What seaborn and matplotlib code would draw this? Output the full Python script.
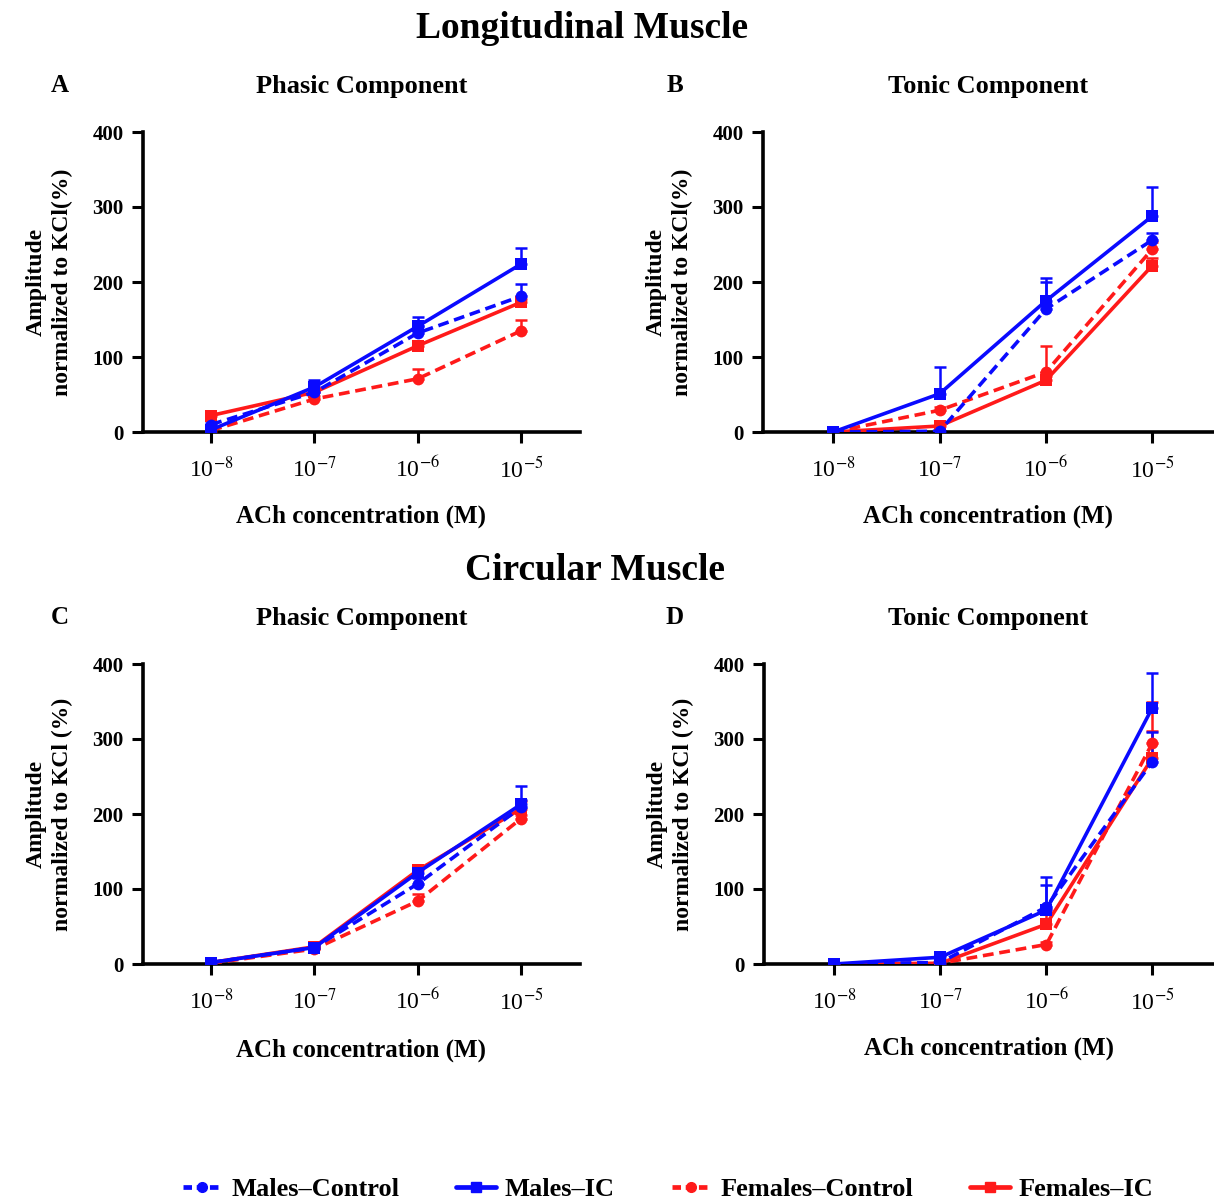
import numpy as np
import pandas as pd
import matplotlib
matplotlib.use("Agg")
import matplotlib.pyplot as plt
import seaborn as sns
from matplotlib.lines import Line2D

sns.set_style("ticks")
plt.rcParams['font.family'] = ['Liberation Serif', 'DejaVu Serif']
plt.rcParams['mathtext.fontset'] = 'stix'
for k in ['text.color', 'axes.labelcolor', 'xtick.color', 'ytick.color', 'axes.edgecolor']:
    plt.rcParams[k] = 'black'

# x categories (ACh concentration, M)
conc = ['10$^{-8}$', '10$^{-7}$', '10$^{-6}$', '10$^{-5}$']
groups = ['Males\u2013Control', 'Males\u2013IC', 'Females\u2013Control', 'Females\u2013IC']

# Panel A - longitudinal, phasic
a_mean = {'Males\u2013Control': [10, 53, 132, 181], 'Males\u2013IC': [3, 60, 141, 224],
          'Females\u2013Control': [2, 44, 71, 135], 'Females\u2013IC': [22, 53, 115, 173]}
a_err = {'Males\u2013Control': [2, 6, 10, 16], 'Males\u2013IC': [3, 10, 12, 21],
         'Females\u2013Control': [2, 4, 13, 14], 'Females\u2013IC': [3, 5, 5, 5]}
# Panel B - longitudinal, tonic
b_mean = {'Males\u2013Control': [0, 1, 164, 256], 'Males\u2013IC': [0, 51, 175, 288],
          'Females\u2013Control': [0, 29, 80, 244], 'Females\u2013IC': [0, 8, 69, 222]}
b_err = {'Males\u2013Control': [0, 1, 36, 10], 'Males\u2013IC': [0, 36, 31, 39],
         'Females\u2013Control': [0, 5, 35, 10], 'Females\u2013IC': [0, 3, 6, 10]}
# Panel C - circular, phasic
c_mean = {'Males\u2013Control': [2, 22, 107, 209], 'Males\u2013IC': [2, 22, 122, 213],
          'Females\u2013Control': [1, 20, 84, 194], 'Females\u2013IC': [2, 23, 125, 207]}
c_err = {'Males\u2013Control': [1, 2, 8, 10], 'Males\u2013IC': [1, 2, 8, 25],
         'Females\u2013Control': [1, 2, 9, 5], 'Females\u2013IC': [1, 2, 5, 11]}
# Panel D - circular, tonic
d_mean = {'Males\u2013Control': [0, 2, 76, 270], 'Males\u2013IC': [0, 9, 72, 342],
          'Females\u2013Control': [0, 1, 26, 295], 'Females\u2013IC': [0, 1, 53, 275]}
d_err = {'Males\u2013Control': [0, 2, 29, 40], 'Males\u2013IC': [0, 3, 44, 46],
         'Females\u2013Control': [0, 1, 3, 16], 'Females\u2013IC': [0, 1, 20, 74]}

colors = {'Males\u2013Control': '#0a0aff', 'Males\u2013IC': '#0a0aff',
          'Females\u2013Control': '#ff1a1a', 'Females\u2013IC': '#ff1a1a'}
dashes = {'Males\u2013Control': (3, 1.6), 'Males\u2013IC': '',
          'Females\u2013Control': (3, 1.6), 'Females\u2013IC': ''}
markers = {'Males\u2013Control': 'o', 'Males\u2013IC': 's',
           'Females\u2013Control': 'o', 'Females\u2013IC': 's'}
draw_order = ['Females\u2013Control', 'Females\u2013IC', 'Males\u2013Control', 'Males\u2013IC']


def to_long(means, errs):
    rows = []
    for g in groups:
        for i, c in enumerate(conc):
            rows.append({'group': g, 'x': i, 'amp': means[g][i], 'err': errs[g][i]})
    return pd.DataFrame(rows)


W, H = 1214, 1203
fig = plt.figure(figsize=(W / 100, H / 100), dpi=100)


def add_ax(left, top, right, bottom):
    return fig.add_axes([left / W, 1 - bottom / H, (right - left) / W, (bottom - top) / H])


panels = [
    (add_ax(143, 132, 580, 432), a_mean, a_err, 'A', 'Phasic Component', 'Amplitude\nnormalized to KCl(%)', 516),
    (add_ax(763, 132, 1213, 432), b_mean, b_err, 'B', 'Tonic Component', 'Amplitude\nnormalized to KCl(%)', 516),
    (add_ax(143, 664, 580, 964), c_mean, c_err, 'C', 'Phasic Component', 'Amplitude\nnormalized to KCl (%)', 1050),
    (add_ax(764, 664, 1213, 964), d_mean, d_err, 'D', 'Tonic Component', 'Amplitude\nnormalized to KCl (%)', 1048),
]

for ax, means, errs, letter, title, ylab, xlab_y in panels:
    df = to_long(means, errs)
    for g in draw_order:
        sub = df[df['group'] == g]
        ax.errorbar(sub['x'], sub['amp'], yerr=[np.zeros(len(sub)), sub['err']],
                    fmt='none', ecolor=colors[g], elinewidth=1.8, capsize=4.5, capthick=1.8, zorder=2)
    sns.lineplot(data=df, x='x', y='amp', hue='group', style='group', hue_order=draw_order,
                 style_order=draw_order, palette=colors, dashes=dashes, markers=markers,
                 markersize=8.5, markeredgewidth=0, linewidth=2.6, ax=ax, legend=False, zorder=3)
    ax.set_xlim(-0.66, 3.57)
    ax.set_ylim(0, 400)
    ax.set_xticks(range(4))
    ax.set_xticklabels(conc, fontsize=17)
    ax.set_yticks([0, 100, 200, 300, 400])
    ax.set_yticklabels(['0', '100', '200', '300', '400'], fontsize=15, fontweight='bold')
    ax.tick_params(axis='both', width=2.2, length=8, direction='out', pad=6)
    ax.tick_params(axis='x', pad=10)
    sns.despine(ax=ax)
    for s in ['left', 'bottom']:
        ax.spines[s].set_linewidth(2.6)
    ax.set_xlabel('')
    ax.set_ylabel(ylab, fontsize=17, fontweight='bold', linespacing=1.3, labelpad=14)
    ax.set_title(title, fontsize=19, fontweight='bold', pad=28)
    pos = ax.get_position()
    fig.text(pos.x0 + pos.width * 0.5, 1 - xlab_y / H, 'ACh concentration (M)', ha='center', va='center',
             fontsize=18, fontweight='bold')
    lx = 60 if letter in 'AC' else 675
    ly = 86 if letter in 'AB' else 617
    fig.text(lx / W, 1 - ly / H, letter, ha='center', va='center', fontsize=18, fontweight='bold')

fig.text(582 / W, 1 - 28 / H, 'Longitudinal Muscle', ha='center', va='center', fontsize=27, fontweight='bold')
fig.text(595 / W, 1 - 571 / H, 'Circular Muscle', ha='center', va='center', fontsize=27, fontweight='bold')

handles = [Line2D([], [], color=colors[g], marker=markers[g], markersize=7, linewidth=3.4,
                  linestyle='--' if 'Control' in g else '-', dashes=(1.8, 1) if 'Control' in g else (None, None))
           for g in groups]
fig.legend(handles, groups, loc='center', bbox_to_anchor=(668 / W, 1 - 1189 / H), ncol=4, frameon=False,
           prop={'size': 19, 'weight': 'bold'}, handlelength=1.5, columnspacing=2.15, handletextpad=0.35)

fig.savefig('out.png', dpi=100)
